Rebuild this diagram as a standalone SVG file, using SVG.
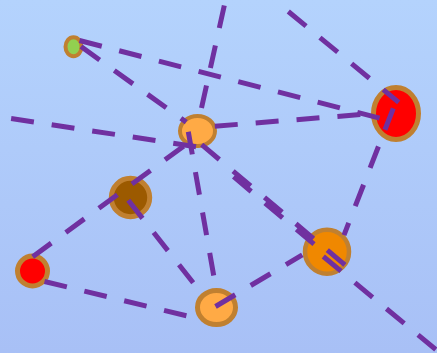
<svg xmlns="http://www.w3.org/2000/svg" width="437" height="353" viewBox="0 0 437 353">
<defs>
<linearGradient id="bg" x1="0" y1="0" x2="0" y2="1">
<stop offset="0" stop-color="#b4d3fd"/>
<stop offset="1" stop-color="#a8c0f6"/>
</linearGradient>
<style>
.n{stroke:#c08030;stroke-width:4.5}
.c line{stroke:#7030a0;stroke-width:5;stroke-dasharray:23 18;fill:none;stroke-linecap:butt}
</style>
</defs>
<rect x="0" y="0" width="437" height="353" fill="url(#bg)"/>
<g id="node-1"><ellipse class="n" cx="73.5" cy="46.7" rx="8" ry="9.5" fill="#92d050" style="stroke-width:4"/></g>
<g id="node-2"><ellipse class="n" cx="197.5" cy="131" rx="17.5" ry="15" fill="#ffaa45" style="stroke-width:4"/></g>
<g id="node-3"><ellipse class="n" cx="396" cy="113.5" rx="22.5" ry="26" fill="#ff0000" style="stroke-width:5"/></g>
<g id="node-4"><circle class="n" cx="130.5" cy="197.5" r="19.2" fill="#9c5a00" style="stroke-width:5"/></g>
<g id="node-5"><circle class="n" cx="32.5" cy="271" r="15" fill="#ff0000" style="stroke-width:5"/></g>
<g id="node-6"><circle class="n" cx="327" cy="251.7" r="22" fill="#f08800"/></g>
<g id="node-7"><ellipse class="n" cx="216.5" cy="307.5" rx="19" ry="17" fill="#ffaa45" style="stroke-width:5"/></g>
<g id="connectors" class="c">
<line x1="224.3" y1="5.5" x2="201.5" y2="108"/>
<line x1="79.5" y1="40.5" x2="380.1" y2="118.3"/>
<line x1="81" y1="46.5" x2="186.2" y2="122.1"/>
<line x1="196" y1="146.7" x2="10.6" y2="118.5"/>
<line x1="214.8" y1="126.2" x2="360.3" y2="114.6"/>
<line x1="288.3" y1="11.5" x2="398.7" y2="102.4"/>
<line x1="393.3" y1="108.3" x2="344" y2="235.1"/>
<line x1="32.7" y1="256.7" x2="185.2" y2="145"/>
<line x1="188.3" y1="131.7" x2="213.7" y2="275.5"/>
<line x1="128.3" y1="200.3" x2="193.2" y2="282.8"/>
<line x1="44.5" y1="281.5" x2="186.4" y2="315.8"/>
<line x1="215.5" y1="306.5" x2="302.3" y2="254.8"/>
<line x1="201.7" y1="144.7" x2="344.9" y2="264.9"/>
<line x1="233.6" y1="176.7" x2="314" y2="244.2"/>
<line x1="323.3" y1="256.5" x2="435.8" y2="349.6"/>
</g>
</svg>
